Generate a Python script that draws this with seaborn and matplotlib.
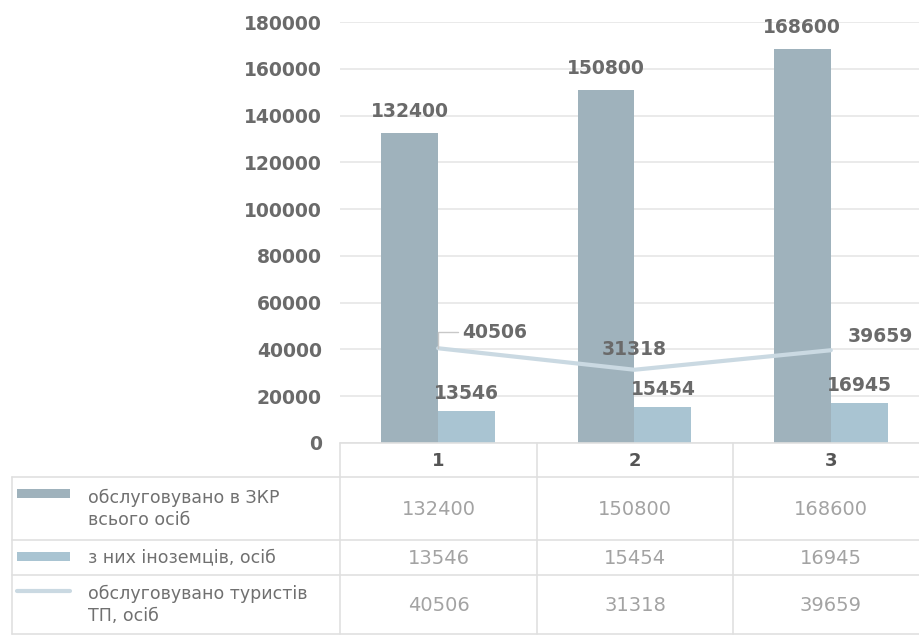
import matplotlib
matplotlib.use("Agg")
import matplotlib.pyplot as plt
import seaborn as sns
import pandas as pd
import numpy as np
from matplotlib.patches import Rectangle

categories = ["1", "2", "3"]
served_total = [132400, 150800, 168600]
foreigners = [13546, 15454, 16945]
tourists = [40506, 31318, 39659]
series_names = ["обслуговувано в ЗКР\nвсього осіб",
                "з них іноземців, осіб",
                "обслуговувано туристів\nТП, осіб"]
yticks = [0, 20000, 40000, 60000, 80000, 100000, 120000, 140000, 160000, 180000]

c_dark = "#9fb2bc"
c_light = "#a9c4d2"
c_line = "#cad9e2"
c_grid = "#e6e6e6"
c_border = "#e0e0e0"
c_lab = "#6a6a6a"

sns.set_theme(style="white")
plt.rcParams["font.family"] = ["DejaVu Sans"]

fig = plt.figure(figsize=(9.2, 6.35), dpi=100)
W, H = 920, 635
ax = fig.add_axes([340 / W, (H - 443) / H, 589 / W, (443 - 22) / H])

df = pd.DataFrame({
    "cat": categories * 2,
    "val": served_total + foreigners,
    "series": [series_names[0]] * 3 + [series_names[1]] * 3,
})
sns.barplot(data=df, x="cat", y="val", hue="series", order=categories,
            hue_order=series_names[:2], palette=[c_dark, c_light],
            width=0.58, ax=ax, legend=False, saturation=1, edgecolor="none")
xs = np.arange(len(categories))
ax.plot(xs, tourists, color=c_line, lw=3, solid_capstyle="round", zorder=3)

ax.set_xlim(-0.5, 2.5)
ax.set_ylim(0, 180000)
ax.set_yticks(yticks)
ax.set_yticklabels([str(v) for v in yticks], fontsize=13.5, color=c_lab,
                   fontweight="bold")
ax.tick_params(axis="y", length=0, pad=13)
ax.set_xticks([])
ax.set_xlabel("")
ax.set_ylabel("")
ax.grid(axis="y", color=c_grid, lw=1.2)
ax.set_axisbelow(True)
for s in ax.spines.values():
    s.set_visible(False)

lab_kw = dict(fontsize=13.5, color=c_lab, fontweight="bold")
bw = 0.29
for i, v in enumerate(served_total):
    ax.annotate(str(v), (i - bw / 2, v), xytext=(0, 12), textcoords="offset pixels",
                ha="center", va="bottom", **lab_kw)
for i, v in enumerate(foreigners):
    ax.annotate(str(v), (i + bw / 2, v), xytext=(0, 8), textcoords="offset pixels",
                ha="center", va="bottom", **lab_kw)
offs = [(24, 16, "left"), (0, 20, "center"), (17, 14, "left")]
for i, v in enumerate(tourists):
    dx, dy, ha = offs[i]
    ax.annotate(str(v), (i, v), xytext=(dx, dy), textcoords="offset pixels",
                ha=ha, va="center", **lab_kw)
ax.annotate("", (0, tourists[0]), xytext=(20, 16), textcoords="offset pixels",
            arrowprops=dict(arrowstyle="-", color="#c8c8c8", lw=1,
                            connectionstyle="angle,angleA=0,angleB=90,rad=0",
                            shrinkA=0, shrinkB=0))

# data table in pixel coordinates
tab = fig.add_axes([0, 0, 1, 1], zorder=5)
tab.set_xlim(0, W)
tab.set_ylim(H, 0)
tab.axis("off")
col_x = [340, 537, 733, 929]
rows_y = [443, 477, 540, 575, 634]
lc = dict(color=c_border, lw=1.2)
tab.plot([340, W], [443, 443], **lc)
for y in rows_y[1:]:
    tab.plot([12, W], [y, y], **lc)
for x in col_x[:3]:
    tab.plot([x, x], [443, 634], **lc)
tab.plot([12, 12], [477, 634], **lc)

for j, c in enumerate(categories):
    cx = (col_x[j] + col_x[j + 1]) / 2
    tab.text(cx, 461, c, ha="center", va="center", fontsize=13, color="#555555",
             fontweight="bold")
table_vals = [served_total, foreigners, tourists]
for r in range(3):
    cy = (rows_y[r + 1] + rows_y[r + 2]) / 2
    for j in range(3):
        cx = (col_x[j] + col_x[j + 1]) / 2
        tab.text(cx, cy + 1, str(table_vals[r][j]), ha="center", va="center",
                 fontsize=14, color="#a3a3a3")
    tab.text(88, cy, series_names[r], ha="left", va="center", fontsize=12.5,
             color="#707070", linespacing=1.3)
tab.add_patch(Rectangle((17, 489), 53, 9, color=c_dark, lw=0))
tab.add_patch(Rectangle((17, 552), 53, 9, color=c_light, lw=0))
tab.plot([17, 70], [591, 591], color=c_line, lw=3)

fig.savefig("out.png", dpi=100)
